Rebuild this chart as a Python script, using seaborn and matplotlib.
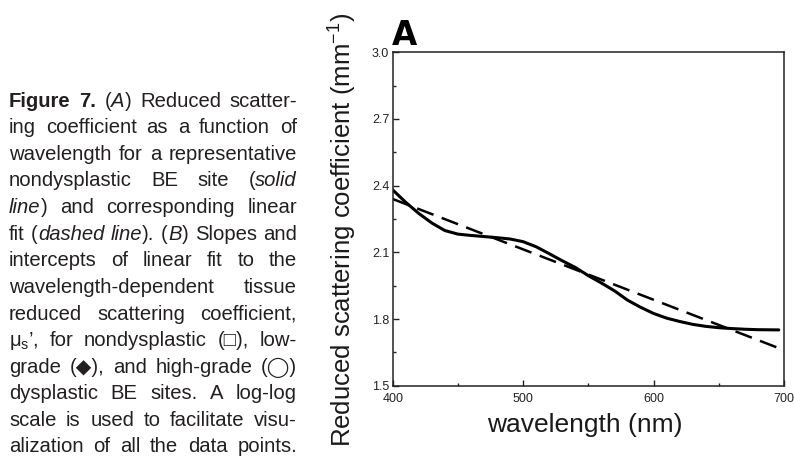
import matplotlib
matplotlib.use("Agg")
import matplotlib.pyplot as plt
import seaborn as sns
import pandas as pd
from matplotlib.ticker import MultipleLocator, FormatStrFormatter

# ---------------- data ----------------
wavelength_nm = [400, 410, 420, 430, 440, 450, 460, 470, 480, 490, 500, 510, 520,
                 530, 540, 550, 560, 570, 580, 590, 600, 610, 620, 630, 640, 650,
                 660, 670, 680, 696]
scattering = [2.381, 2.325, 2.275, 2.232, 2.198, 2.182, 2.176, 2.171, 2.166, 2.160,
              2.148, 2.125, 2.094, 2.062, 2.032, 1.995, 1.962, 1.927, 1.885, 1.853,
              1.825, 1.804, 1.789, 1.776, 1.767, 1.761, 1.757, 1.754, 1.752, 1.751]
fit_wavelength = [400, 700]
fit_scattering = [2.34, 1.66]
x_ticks = [400, 500, 600, 700]
y_ticks = [1.5, 1.8, 2.1, 2.4, 2.7, 3.0]

panel_label = "A"
x_label = "wavelength (nm)"
y_label = "Reduced scattering coefficient (mm$^{-1}$)"

# caption: lines -> words -> runs (text, style)  n=normal, i=italic, b=bold
caption_lines = [
    [[("Figure", "b")], [("7.", "b")], [("(", "n"), ("A", "i"), (")", "n")], [("Reduced", "n")], [("scatter-", "n")]],
    [[("ing", "n")], [("coefficient", "n")], [("as", "n")], [("a", "n")], [("function", "n")], [("of", "n")]],
    [[("wavelength", "n")], [("for", "n")], [("a", "n")], [("representative", "n")]],
    [[("nondysplastic", "n")], [("BE", "n")], [("site", "n")], [("(", "n"), ("solid", "i")]],
    [[("line", "i"), (")", "n")], [("and", "n")], [("corresponding", "n")], [("linear", "n")]],
    [[("fit", "n")], [("(", "n"), ("dashed", "i")], [("line", "i"), (").", "n")], [("(", "n"), ("B", "i"), (")", "n")], [("Slopes", "n")], [("and", "n")]],
    [[("intercepts", "n")], [("of", "n")], [("linear", "n")], [("fit", "n")], [("to", "n")], [("the", "n")]],
    [[("wavelength-dependent", "n")], [("tissue", "n")]],
    [[("reduced", "n")], [("scattering", "n")], [("coefficient,", "n")]],
    [[("μ$_{\\rm s}$’,", "n")], [("for", "n")], [("nondysplastic", "n")], [("(□),", "n")], [("low-", "n")]],
    [[("grade", "n")], [("(◆),", "n")], [("and", "n")], [("high-grade", "n")], [("(◯)", "n")]],
    [[("dysplastic", "n")], [("BE", "n")], [("sites.", "n")], [("A", "n")], [("log-log", "n")]],
    [[("scale", "n")], [("is", "n")], [("used", "n")], [("to", "n")], [("facilitate", "n")], [("visu-", "n")]],
    [[("alization", "n")], [("of", "n")], [("all", "n")], [("the", "n")], [("data", "n")], [("points.", "n")]],
]

# ---------------- figure ----------------
sns.set_theme(style="white")
plt.rcParams["font.family"] = ["Liberation Sans", "DejaVu Sans"]
plt.rcParams["mathtext.fontset"] = "custom"
plt.rcParams["mathtext.rm"] = "Liberation Sans"
plt.rcParams["mathtext.it"] = "Liberation Sans:italic"

W, H = 794, 458
fig = plt.figure(figsize=(W / 100, H / 100), dpi=100)
fig.patch.set_facecolor("white")

ax_l, ax_r, ax_t, ax_b = 392.7, 784.0, 52.3, 385.7
ax = fig.add_axes([ax_l / W, 1 - ax_b / H, (ax_r - ax_l) / W, (ax_b - ax_t) / H])
ax.set_facecolor("white")

df_curve = pd.DataFrame({"wavelength": wavelength_nm, "mus": scattering})
df_fit = pd.DataFrame({"wavelength": fit_wavelength, "mus": fit_scattering})

sns.lineplot(data=df_curve, x="wavelength", y="mus", ax=ax, color="black",
             linewidth=2.2, sort=True)
sns.lineplot(data=df_fit, x="wavelength", y="mus", ax=ax, color="black",
             linewidth=1.8, sort=True)
ax.lines[-1].set_dashes((7, 3.5))

ax.set_xlim(400, 700)
ax.set_ylim(1.5, 3.0)
ax.set_xticks(x_ticks)
ax.set_yticks(y_ticks)
ax.xaxis.set_minor_locator(MultipleLocator(50))
ax.yaxis.set_minor_locator(MultipleLocator(0.15))
ax.yaxis.set_major_formatter(FormatStrFormatter("%.1f"))
ax.set_xlabel("")
ax.set_ylabel("")

ax.tick_params(which="both", direction="in", top=False, right=False,
               bottom=True, left=True, colors="#222222", labelsize=9)
ax.tick_params(which="major", length=4.5, width=1.0)
ax.tick_params(which="minor", length=2.5, width=1.0)
ax.tick_params(axis="x", which="major", pad=5)
ax.tick_params(axis="y", which="major", pad=2.5)
for s in ax.spines.values():
    s.set_visible(True)
    s.set_color("#222222")
    s.set_linewidth(1.1)

# labels
fig.text(585 / W, 1 - 425 / H, x_label, ha="center", va="center",
         fontsize=19, color="#1a1a1a")
fig.text(343 / W, 1 - 230 / H, y_label, ha="center", va="center",
         rotation=90, fontsize=18.5, color="#1a1a1a")
fig.text(392 / W, 1 - 45 / H, panel_label, ha="left", va="baseline",
         fontsize=23.5, fontweight="heavy", color="black",
         family=["DejaVu Sans"])

# ---------------- justified caption ----------------
renderer = fig.canvas.get_renderer()
cap_color = "#231f20"
cap_size = 14.6
x0, x1 = 9.0, 297.0
base0, step = 106.7, 26.6

for i, words in enumerate(caption_lines):
    y_fig = 1 - (base0 + step * i) / H
    placed = []
    widths = []
    for word in words:
        runs = []
        wsum = 0.0
        for txt, st in word:
            t = fig.text(0, y_fig, txt, fontsize=cap_size, color=cap_color,
                         ha="left", va="baseline",
                         fontweight="bold" if st == "b" else "normal",
                         fontstyle="italic" if st == "i" else "normal")
            bw = t.get_window_extent(renderer).width
            runs.append((t, bw))
            wsum += bw
        placed.append(runs)
        widths.append(wsum)
    n = len(words)
    gap = (x1 - x0 - sum(widths)) / (n - 1) if n > 1 else 0
    gap = max(gap, 3.0)
    x = x0
    for runs, wsum in zip(placed, widths):
        xx = x
        for t, bw in runs:
            t.set_x(xx / W)
            xx += bw
        x += wsum + gap

fig.savefig("out.png", dpi=100, facecolor="white")
